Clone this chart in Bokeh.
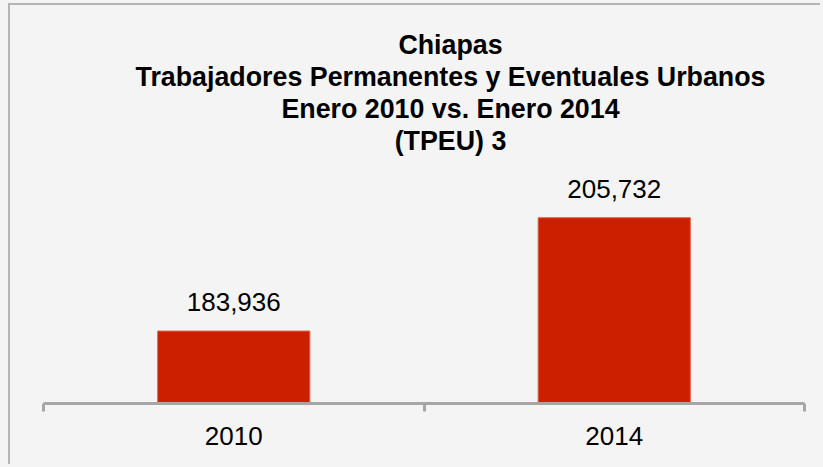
from bokeh.plotting import figure
from bokeh.models import ColumnDataSource, Range1d, FixedTicker, LabelSet, Label, GlobalInlineStyleSheet
from bokeh.core.properties import value
from bokeh.embed import file_html
from bokeh.resources import INLINE

# ---- data ----
categories = ["2010", "2014"]
values = [183936, 205732]
title_lines = [
    "Chiapas",
    "Trabajadores Permanentes y Eventuales Urbanos",
    "Enero 2010 vs. Enero 2014",
    "(TPEU) 3",
]
y_min = 170000
y_max = 245000

BG = "#f4f4f4"
BAR = "#cc1f00"
AXIS = "#a6a6a6"
FONT = "Liberation Sans"

x_pos = [i + 0.5 for i in range(len(categories))]
src = ColumnDataSource(dict(x=x_pos, top=values, label=[f"{v:,}" for v in values]))

p = figure(width=812, height=461, output_backend="svg", toolbar_location=None,
           x_range=Range1d(0, len(categories)), y_range=Range1d(y_min, y_max),
           y_axis_location=None,
           min_border_left=33, min_border_right=18, min_border_top=8, min_border_bottom=63)

p.background_fill_color = BG
p.border_fill_color = BG
p.outline_line_color = None
p.grid.visible = False
p.styles = {"border-left": "2px solid #b5b5b5", "border-top": "2px solid #b5b5b5",
            "margin-left": "8px", "margin-top": "3px"}
p.stylesheets = [GlobalInlineStyleSheet(css="html, body { background-color: #f4f4f4; overflow: hidden; }")]

ax = p.xaxis[0]
ax.ticker = FixedTicker(ticks=x_pos, minor_ticks=list(range(len(categories) + 1)))
ax.major_label_overrides = {x: c for x, c in zip(x_pos, categories)}
ax.major_tick_line_color = None
ax.major_tick_in = 0
ax.major_tick_out = 0
ax.minor_tick_line_color = AXIS
ax.minor_tick_line_width = 3
ax.minor_tick_in = 0
ax.minor_tick_out = 8
ax.axis_line_color = AXIS
ax.axis_line_width = 3
ax.major_label_standoff = 15
ax.major_label_text_font = FONT
ax.major_label_text_font_size = "26px"
ax.major_label_text_color = "#000000"

p.vbar(x="x", top="top", bottom=y_min, width=0.4, source=src,
       fill_color=BAR, line_color="#e0664a", line_width=1)

p.add_layout(LabelSet(x="x", y="top", text="label", source=src,
                      text_align="center", text_baseline="alphabetic", y_offset=20,
                      text_font=value(FONT), text_font_size=value("26px"),
                      text_color=value("#000000")))

for i, line in enumerate(title_lines):
    p.add_layout(Label(x=407, y=359 - i * 32.3, x_units="screen", y_units="screen",
                       text=line, text_align="center", text_baseline="alphabetic",
                       text_font=FONT, text_font_style="bold", text_font_size="26.8px",
                       text_color="#000000"))

open("out.html", "w").write(file_html(p, INLINE))
